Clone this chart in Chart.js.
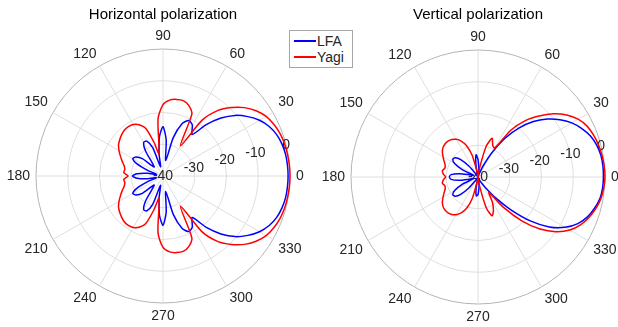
<!DOCTYPE html>
<html lang="en">
<head>
    <meta charset="UTF-8">
    <title>Horizontal / Vertical polarization</title>
    <script src="https://cdn.jsdelivr.net/npm/chart.js"></script>
    <style>
        body {
            margin: 0;
            width: 618px;
            height: 327px;
            position: relative;
            overflow: hidden;
            background: #fff;
            font-family: "Liberation Sans", Arial, sans-serif;
        }
        .chart_box { position: absolute; top: 0; height: 327px; }
        #left_box { left: 0; width: 310px; }
        #right_box { left: 310px; width: 308px; }

        .legend {
            position: absolute;
            left: 289px;
            top: 30px;
            width: 62px;
            height: 36px;
            border: 1px solid #a6a6a6;
            background: #fff;
            font-size: 14px;
            color: #262626;
            z-index: 5;
        }
        .legend-item { position: absolute; left: 0; width: 62px; height: 16px; line-height: 16px; }
        .legend-item i { position: absolute; left: 4px; top: 7px; width: 22px; height: 1.5px; }
        .legend-item span { position: absolute; left: 27px; }
    </style>
</head>
<body>
    <div class="chart_box" id="left_box"><canvas id="chart_h"></canvas></div>
    <div class="chart_box" id="right_box"><canvas id="chart_v"></canvas></div>

    <div class="legend">
        <div class="legend-item" style="top:2px"><i style="background:#0000ff"></i><span>LFA</span></div>
        <div class="legend-item" style="top:18px"><i style="background:#ff0000"></i><span>Yagi</span></div>
    </div>

    <script>
        // angles (deg, counter-clockwise from 0 = right)
        const ANGLES = [0,5,10,15,20,25,30,35,40,45,50,55,60,65,70,75,80,85,90,95,100,105,110,115,120,125,130,135,140,145,150,155,160,165,170,175,
                        180,185,190,195,200,205,210,215,220,225,230,235,240,245,250,255,260,265,270,275,280,285,290,295,300,305,310,315,320,325,330,335,340,345,350,355]
        const ANGLE_TICKS = [0,30,60,90,120,150,180,210,240,270,300,330]
        const R_TICKS = [-40,-30,-20,-10,0]

        // gain in dB, one value per angle above
        const H_LFA = [-0.6,-0.65,-0.8,-1.2,-1.9,-3.1,-4.9,-7.4,-10.3,-14.2,-19,-24,-21.5,-20.7,-22.5,-27.5,-35,-28.5,-24.5,-27.5,-33,-37,-30.5,-27.9,-27.8,-30.5,-35,-36,-31.5,-29.6,-29,-31,-35,-38,-35,-31.8,
                       -30.4,-31.8,-35,-38,-35,-31,-29,-29.6,-31.5,-36,-35,-30.5,-27.8,-27.9,-30.5,-37,-33,-27.5,-24.5,-28.5,-35,-27.5,-22.5,-20.7,-21.5,-24,-19,-14.2,-10.3,-7.4,-4.9,-3.1,-1.9,-1.2,-0.8,-0.65]
        const H_YAGI = [0,-0.05,-0.2,-0.4,-0.8,-1.5,-2.5,-4.2,-6.5,-9.5,-13,-18.5,-29,-18.5,-16.3,-15.4,-15.5,-16,-17.5,-22,-33,-29,-24,-22.2,-21.3,-21,-21.1,-21.6,-22.2,-22.9,-24,-25.2,-26.3,-27.3,-27.8,-27.6,
                        -29,-27.6,-27.8,-27.3,-26.3,-25.2,-24,-22.9,-22.2,-21.6,-21.1,-21,-21.3,-22.2,-24,-29,-33,-22,-17.5,-16,-15.5,-15.4,-16.3,-18.5,-29,-18.5,-13,-9.5,-6.5,-4.2,-2.5,-1.5,-0.8,-0.4,-0.2,-0.05]
        const V_LFA = [-0.5,-0.5,-0.7,-1.3,-2.3,-3.9,-5.9,-8.5,-11.6,-15.3,-19.8,-25,-31,-36,-39,-40,-39,-37,-34.5,-33,-36.5,-40,-40,-40,-40,-39,-35.5,-32.3,-30.6,-30.3,-31.5,-34.5,-38.5,-37.5,-34,-31.5,
                       -31,-31.5,-34,-37.5,-38.5,-34.5,-31.5,-30.3,-30.6,-32.3,-35.5,-39,-40,-40,-40,-40,-36.5,-34,-34.5,-36.5,-38.5,-39.5,-39.5,-39,-38,-36,-31.5,-25.5,-18.5,-12.6,-8.3,-5.3,-3.3,-2,-1,-0.6]
        const V_YAGI = [0,-0.1,-0.35,-0.75,-1.3,-2.1,-3.6,-5.9,-9,-12.8,-16.8,-22,-29.5,-29,-27,-30,-37,-40,-40,-40,-38.5,-33,-29.5,-27.5,-26.3,-25.6,-25.3,-25.3,-25.6,-26.3,-27.3,-28.2,-29,-29.2,-28.6,-29,
                        -29.8,-29,-28.6,-29.2,-29,-28.2,-27.3,-26.3,-25.6,-25.3,-25.3,-25.6,-26.3,-27.5,-29.5,-33,-38.5,-40,-40,-40,-37,-30,-27,-28.5,-31,-34,-27.5,-20.5,-14.5,-10,-6.6,-4.4,-2.8,-1.6,-0.7,-0.25]

        const FONT = 'Liberation Sans, Arial, sans-serif'
        const TEXT_COLOR = '#262626'
        const R_LABEL_ANGLE = 14

        // radar goes clockwise, our angles go counter-clockwise
        const cw = arr => [arr[0], ...arr.slice(1).reverse()]
        const RADAR_LABELS = cw(ANGLES)

        const polarText = {
            id: 'polarText',
            beforeDatasetsDraw(chart) {
                const r = chart.scales.r
                const ctx = chart.ctx
                ctx.save()
                ctx.font = '14px ' + FONT
                ctx.fillStyle = TEXT_COLOR

                // r tick labels along ~14 deg
                ctx.textAlign = 'center'
                ctx.textBaseline = 'middle'
                R_TICKS.forEach(v => {
                    const p = r.getPointPosition(0, r.getDistanceFromCenterForValue(v), -R_LABEL_ANGLE * Math.PI / 180)
                    ctx.fillText(String(v), p.x, p.y)
                })

                // angle labels just outside the circle
                ANGLE_TICKS.forEach(deg => {
                    const i = RADAR_LABELS.indexOf(deg)
                    const p = r.getPointPosition(i, r.drawingArea + 6)
                    if (deg === 90 || deg === 270) ctx.textAlign = 'center'
                    else if (deg > 90 && deg < 270) ctx.textAlign = 'right'
                    else ctx.textAlign = 'left'
                    if (deg === 0 || deg === 180) ctx.textBaseline = 'middle'
                    else if (deg < 180) ctx.textBaseline = 'bottom'
                    else ctx.textBaseline = 'top'
                    ctx.fillText(String(deg), p.x, p.y)
                })
                ctx.restore()
            }
        }

        function makeChart(id, title, lfa, yagi, pad, titleGap) {
            return new Chart(document.getElementById(id), {
                type: 'radar',
                data: {
                    labels: RADAR_LABELS,
                    datasets: [
                        { label: 'LFA', data: cw(lfa), borderColor: '#0000ff', order: 1 },
                        { label: 'Yagi', data: cw(yagi), borderColor: '#ff0000', order: 0 }
                    ]
                },
                options: {
                    responsive: true,
                    maintainAspectRatio: false,
                    animation: false,
                    layout: { padding: pad },
                    elements: {
                        point: { radius: 0, hitRadius: 0, hoverRadius: 0 },
                        line: { borderWidth: 1.5, tension: 0.25, fill: false }
                    },
                    plugins: {
                        legend: { display: false },
                        tooltip: { enabled: false },
                        title: {
                            display: true,
                            text: title,
                            color: '#000',
                            font: { size: 15, weight: 'normal', family: FONT },
                            padding: { top: 6, bottom: titleGap }
                        }
                    },
                    scales: {
                        r: {
                            min: -40,
                            max: 0,
                            startAngle: 90,
                            ticks: { display: false, stepSize: 10 },
                            pointLabels: { display: false },
                            grid: {
                                circular: true,
                                lineWidth: 1,
                                color: ctx => ctx.tick.value === 0 ? '#b4b4b4' : '#dedede'
                            },
                            angleLines: {
                                lineWidth: 1,
                                color: ctx => RADAR_LABELS[ctx.index] % 30 === 0 ? '#dedede' : ''
                            }
                        }
                    }
                },
                plugins: [polarText]
            })
        }

        makeChart('chart_h', 'Horizontal polarization', H_LFA, H_YAGI, { left: 36, right: 20, top: 0, bottom: 24 }, 25)
        makeChart('chart_v', 'Vertical polarization', V_LFA, V_YAGI, { left: 41, right: 13, top: 0, bottom: 23 }, 26)
    </script>
</body>
</html>
